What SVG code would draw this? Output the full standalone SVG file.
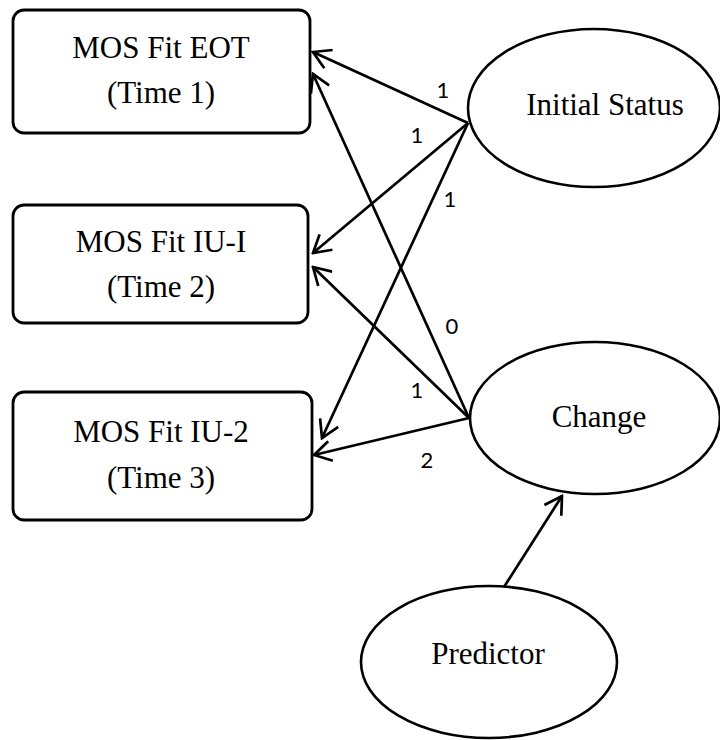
<svg xmlns="http://www.w3.org/2000/svg" width="720" height="740" viewBox="0 0 720 740">
<defs>
<style>
.box{fill:#fff;stroke:#000;stroke-width:2.8}
.ell{fill:#fff;stroke:#000;stroke-width:2.6}
.t{font-family:"Liberation Serif","Times New Roman",serif;font-size:31px;fill:#000;text-anchor:middle}
.lbl{font-family:Lato,"Open Sans","Liberation Sans",sans-serif;font-size:22px;fill:#000;text-anchor:middle}
.c{stroke:#000;stroke-width:2.7;fill:none;marker-end:url(#arr)}
</style>
<marker id="arr" viewBox="0 0 20 22" refX="18" refY="11" markerWidth="20" markerHeight="22" markerUnits="userSpaceOnUse" orient="auto">
<path d="M1,1 L18,11 L1,21" fill="none" stroke="#000" stroke-width="2.7"/>
</marker>
</defs>
<rect width="720" height="740" fill="#fff"/>
<g id="time1">
<rect class="box" x="13" y="10" width="297" height="123" rx="11"/>
<text class="t" x="161" y="58">MOS Fit EOT</text>
<text class="t" x="161" y="103">(Time 1)</text>
</g>
<g id="time2">
<rect class="box" x="13" y="205" width="295" height="118" rx="11"/>
<text class="t" x="161" y="252">MOS Fit IU-I</text>
<text class="t" x="161" y="297">(Time 2)</text>
</g>
<g id="time3">
<rect class="box" x="13" y="392" width="299" height="128" rx="11"/>
<text class="t" x="161" y="442">MOS Fit IU-2</text>
<text class="t" x="161" y="488">(Time 3)</text>
</g>
<g id="initial">
<ellipse class="ell" cx="594" cy="108" rx="126" ry="79"/>
<text class="t" x="605" y="115">Initial Status</text>
</g>
<g id="change">
<ellipse class="ell" cx="595" cy="418" rx="125" ry="76"/>
<text class="t" x="599" y="427">Change</text>
</g>
<g id="predictor">
<ellipse class="ell" cx="489" cy="662" rx="128" ry="76"/>
<text class="t" x="488" y="664">Predictor</text>
</g>
<g id="connectors">
<line class="c" x1="468" y1="123" x2="313" y2="52"/>
<line class="c" x1="468" y1="123" x2="313" y2="253"/>
<line class="c" x1="468" y1="123" x2="322" y2="438"/>
<line class="c" x1="469" y1="418" x2="313" y2="74"/>
<line class="c" x1="469" y1="418" x2="313" y2="267"/>
<line class="c" x1="469" y1="418" x2="314" y2="455"/>
<line class="c" x1="504" y1="587" x2="562" y2="496"/>
<text class="lbl" x="443" y="98">1</text>
<text class="lbl" x="417" y="143">1</text>
<text class="lbl" x="450" y="207">1</text>
<text class="lbl" x="452" y="334">0</text>
<text class="lbl" x="417" y="398">1</text>
<text class="lbl" x="427" y="468">2</text>
</g>
</svg>
